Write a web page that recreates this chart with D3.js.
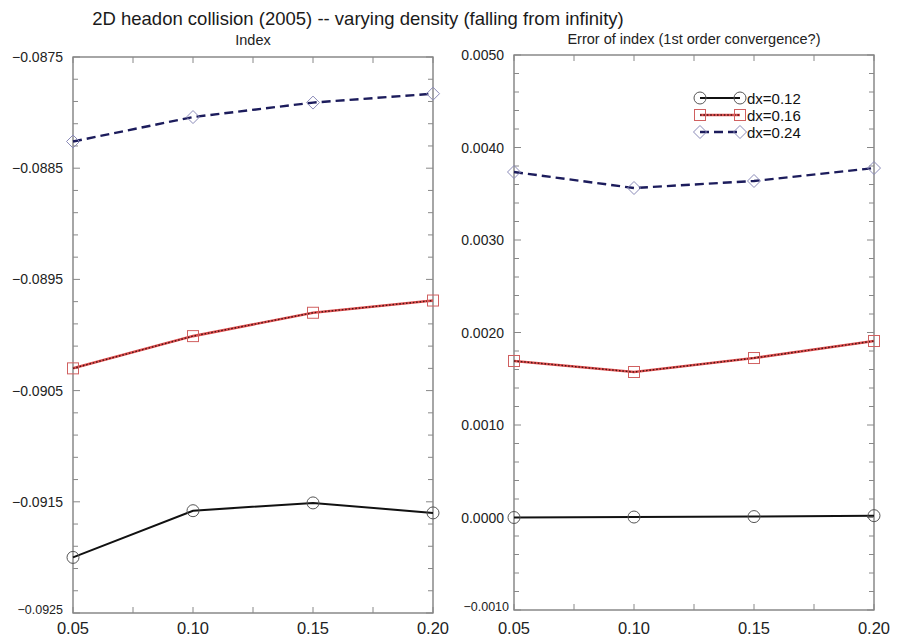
<!DOCTYPE html>
<html>
<head>
<meta charset="utf-8">
<script src="https://cdn.jsdelivr.net/npm/d3@7/dist/d3.min.js"></script>
<style>
  html, body { margin: 0; padding: 0; background: #fff; }
  svg { display: block; font-family: "Liberation Sans", Arial, Helvetica, sans-serif; }
</style>
</head>
<body>
<svg id="chart" width="898" height="639"></svg>
<script>
// Grid spacings (x) shared by both panels
const spacings = [0.05, 0.10, 0.15, 0.20];
const seriesNames = ["dx=0.12", "dx=0.16", "dx=0.24"];

// Left panel: computed index
const index012 = [-0.09200, -0.09158, -0.09151, -0.09160];
const index016 = [-0.09030, -0.09001, -0.08980, -0.08969];
const index024 = [-0.08826, -0.08804, -0.08791, -0.08783];

// Right panel: error of index
const error012 = [0.000000, 0.000005, 0.000010, 0.000020];
const error016 = [0.001692, 0.001573, 0.001724, 0.001908];
const error024 = [0.003735, 0.003562, 0.003638, 0.003778];

// Tick labels
const xTicks = [0.05, 0.10, 0.15, 0.20];
const leftYTicks = [-0.0875, -0.0885, -0.0895, -0.0905, -0.0915, -0.0925];
const rightYTicks = [0.0050, 0.0040, 0.0030, 0.0020, 0.0010, 0.0000, -0.0010];

const svg = d3.select("#chart");

svg.append("text")
  .attr("x", 358).attr("y", 25)
  .attr("text-anchor", "middle")
  .attr("font-size", 18.5)
  .attr("fill", "#1a1a1a")
  .text("2D headon collision (2005) -- varying density (falling from infinity)");

const styles = [
  { line: "#111", width: 2, dash: null, marker: "circle", mstroke: "#555" },
  { line: "#e05050", width: 2.6, dash: null, overlay: "#4a1414", marker: "square", mstroke: "#d06060" },
  { line: "#1c1c5c", width: 2.4, dash: "9,5", marker: "diamond", mstroke: "#8a8ab8" }
];

function drawMarker(g, type, x, y, stroke) {
  if (type === "circle") {
    g.append("circle").attr("cx", x).attr("cy", y).attr("r", 6)
      .attr("fill", "none").attr("stroke", stroke).attr("stroke-width", 1);
  } else if (type === "square") {
    g.append("rect").attr("x", x - 5.5).attr("y", y - 5.5).attr("width", 11).attr("height", 11)
      .attr("fill", "none").attr("stroke", stroke).attr("stroke-width", 1);
  } else {
    g.append("path").attr("d", `M${x - 6.5},${y} L${x},${y - 6.5} L${x + 6.5},${y} L${x},${y + 6.5} Z`)
      .attr("fill", "none").attr("stroke", stroke).attr("stroke-width", 1);
  }
}

function panel(opts) {
  const { left, right, top, bottom, yDomain, yTicks, yFmt, series, title, titleY, lastLabelSmall } = opts;
  const x = d3.scaleLinear().domain([0.05, 0.20]).range([left, right]);
  const y = d3.scaleLinear().domain(yDomain).range([bottom, top]);
  const g = svg.append("g");

  // frame
  g.append("rect").attr("x", left).attr("y", top)
    .attr("width", right - left).attr("height", bottom - top)
    .attr("fill", "none").attr("stroke", "#777").attr("stroke-width", 1.3);

  // inward ticks on all four sides
  const xMinor = d3.range(0.05, 0.2001, 0.025);
  xMinor.forEach(v => {
    const px = x(v);
    const len = 6;
    g.append("line").attr("x1", px).attr("x2", px).attr("y1", bottom).attr("y2", bottom - len)
      .attr("stroke", "#888").attr("stroke-width", 1);
    g.append("line").attr("x1", px).attr("x2", px).attr("y1", top).attr("y2", top + len)
      .attr("stroke", "#888").attr("stroke-width", 1);
  });
  const step = (yDomain[1] - yDomain[0]) / ((yTicks.length - 1) * 5);
  for (let i = 0; i <= (yTicks.length - 1) * 5; i++) {
    const py = y(yDomain[0] + i * step);
    const len = i % 5 === 0 ? 7 : 5;
    g.append("line").attr("x1", left).attr("x2", left + len).attr("y1", py).attr("y2", py)
      .attr("stroke", "#888").attr("stroke-width", 1);
    g.append("line").attr("x1", right).attr("x2", right - len).attr("y1", py).attr("y2", py)
      .attr("stroke", "#888").attr("stroke-width", 1);
  }

  // y labels
  yTicks.forEach((v, i) => {
    const isLast = i === yTicks.length - 1;
    g.append("text")
      .attr("x", left - (isLast && lastLabelSmall ? 5 : 10))
      .attr("y", y(v) + (isLast ? 1 : 5))
      .attr("text-anchor", "end")
      .attr("font-size", isLast ? 12.5 : 14)
      .attr("fill", "#222")
      .text(yFmt(v).replace("-", "\u2212"));
  });

  // x labels
  xTicks.forEach(v => {
    g.append("text").attr("x", x(v)).attr("y", 634)
      .attr("text-anchor", "middle").attr("font-size", 16.5).attr("fill", "#222")
      .text(d3.format(".2f")(v));
  });

  // panel title
  g.append("text").attr("x", (left + right) / 2).attr("y", titleY)
    .attr("text-anchor", "middle").attr("font-size", 14.5).attr("fill", "#222")
    .text(title);

  // series
  const line = d3.line().x(d => x(d[0])).y(d => y(d[1]));
  series.forEach((vals, k) => {
    const st = styles[k];
    const pts = spacings.map((s, i) => [s, vals[i]]);
    g.append("path").attr("d", line(pts)).attr("fill", "none")
      .attr("stroke", st.line).attr("stroke-width", st.width)
      .attr("stroke-dasharray", st.dash);
    if (st.overlay) {
      g.append("path").attr("d", line(pts)).attr("fill", "none")
        .attr("stroke", st.overlay).attr("stroke-width", 1.4)
        .attr("stroke-dasharray", "1.6,1.8");
    }
    pts.forEach(p => drawMarker(g, st.marker, x(p[0]), y(p[1]), st.mstroke));
  });
  return g;
}

panel({
  left: 73, right: 433, top: 57, bottom: 613,
  yDomain: [-0.0925, -0.0875], yTicks: leftYTicks, yFmt: d3.format(".4f"),
  series: [index012, index016, index024],
  title: "Index", titleY: 45, lastLabelSmall: false
});

panel({
  left: 514, right: 874, top: 55, bottom: 610,
  yDomain: [-0.0010, 0.0050], yTicks: rightYTicks, yFmt: d3.format(".4f"),
  series: [error012, error016, error024],
  title: "Error of index (1st order convergence?)", titleY: 44, lastLabelSmall: true
});

// legend
const legend = svg.append("g");
seriesNames.forEach((name, k) => {
  const st = styles[k];
  const ly = 98 + k * 17;
  legend.append("line").attr("x1", 700).attr("x2", 740).attr("y1", ly).attr("y2", ly)
    .attr("stroke", st.line).attr("stroke-width", st.width)
    .attr("stroke-dasharray", st.dash);
  if (st.overlay) {
    legend.append("line").attr("x1", 700).attr("x2", 740).attr("y1", ly).attr("y2", ly)
      .attr("stroke", st.overlay).attr("stroke-width", 1.3).attr("stroke-dasharray", "1.6,1.8");
  }
  drawMarker(legend, st.marker, 700, ly, st.mstroke);
  drawMarker(legend, st.marker, 740, ly, st.mstroke);
  legend.append("text").attr("x", 747).attr("y", ly + 5.5)
    .attr("font-size", 15).attr("fill", "#111").text(name);
});
</script>
</body>
</html>
